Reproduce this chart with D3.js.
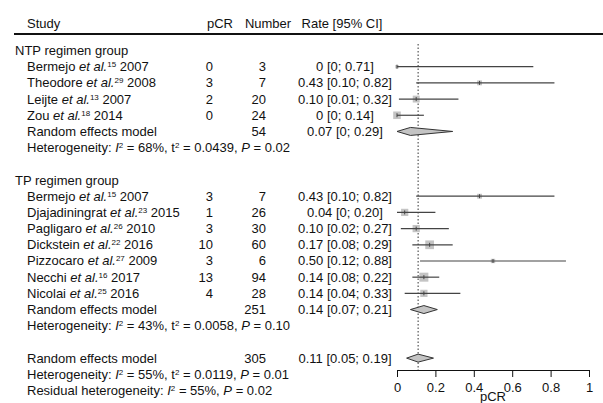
<!DOCTYPE html>
<html>
<head>
<meta charset="utf-8">
<script src="https://cdn.jsdelivr.net/npm/d3@7"></script>
<style>
  body { margin: 0; background: #fff; }
  svg { font-family: "Liberation Sans", Arial, sans-serif; font-size: 13px; }
  .axis text { font-family: "Liberation Sans", Arial, sans-serif; font-size: 13px; fill: #111; }
  .axis path, .axis line { stroke: #111; }
</style>
</head>
<body>
<div id="chart"></div>
<script>
// study rows (row index in the table)
var authors = ["Bermejo", "Theodore", "Leijte", "Zou",
  "Bermejo", "Djajadiningrat", "Pagligaro", "Dickstein", "Pizzocaro", "Necchi", "Nicolai"];
var refs = ["15", "29", "13", "18", "15", "23", "26", "22", "27", "16", "25"];
var years = ["2007", "2008", "2007", "2014", "2007", "2015", "2010", "2016", "2009", "2017", "2016"];
var events = [0, 3, 2, 0, 3, 1, 3, 10, 3, 13, 4];
var totals = [3, 7, 20, 24, 7, 26, 30, 60, 6, 94, 28];
var rates = [0, 0.43, 0.10, 0, 0.43, 0.04, 0.10, 0.17, 0.50, 0.14, 0.14];
var lower = [0, 0.10, 0.01, 0, 0.10, 0, 0.02, 0.08, 0.12, 0.08, 0.04];
var upper = [0.71, 0.82, 0.32, 0.14, 0.82, 0.20, 0.27, 0.29, 0.88, 0.22, 0.33];
var weights = [2.5, 5, 10, 12, 5, 11, 11, 16, 4, 17, 11];
var studyRows = [1, 2, 3, 4, 9, 10, 11, 12, 13, 14, 15];

// pooled estimates
var poolTotals = [54, 251, 305];
var poolRates = [0.07, 0.14, 0.11];
var poolLower = [0, 0.07, 0.05];
var poolUpper = [0.29, 0.21, 0.19];
var poolRows = [5, 16, 19];

var groupLabels = ["NTP regimen group", "TP regimen group"];
var groupRows = [0, 8];

// heterogeneity lines
var hetI2 = ["68%", "43%", "55%"];
var hetTau2 = ["0.0439", "0.0058", "0.0119"];
var hetP = ["0.02", "0.10", "0.01"];
var hetRows = [6, 17, 20];
var residI2 = "55%", residP = "0.02", residRow = 21;

var xTicks = [0, 0.2, 0.4, 0.6, 0.8, 1];
var overallRate = 0.11;

var width = 603, height = 403;

var svg = d3.select("#chart").append("svg")
  .attr("width", width)
  .attr("height", height);

var x = d3.scaleLinear().domain([0, 1]).range([397, 589]);
var row = d3.scaleLinear().domain([0, 21]).range([55, 395]);
var box = d3.scaleSqrt().domain([0, 17]).range([0, 9]);

var colStudy = 27, colGroup = 15, colPcr = 213, colNum = 266, colRate = 345;

function fmt(v) {
  return v === 0 ? "0" : v.toFixed(2);
}
function rateText(r, l, u) {
  return fmt(r) + " [" + fmt(l) + "; " + fmt(u) + "]";
}

// header
var head = svg.append("g").attr("fill", "#111");
head.append("text").attr("x", colStudy).attr("y", 28).text("Study");
head.append("text").attr("x", colPcr + 7).attr("y", 28).attr("text-anchor", "middle").text("pCR");
head.append("text").attr("x", 268).attr("y", 28).attr("text-anchor", "middle").text("Number");
head.append("text").attr("x", 342).attr("y", 28).attr("text-anchor", "middle").text("Rate [95% CI]");
svg.append("line")
  .attr("x1", 14).attr("x2", width)
  .attr("y1", 34).attr("y2", 34)
  .attr("stroke", "#111").attr("stroke-width", 2);

var table = svg.append("g").attr("fill", "#111");

groupLabels.forEach(function(g, i) {
  table.append("text").attr("x", colGroup).attr("y", row(groupRows[i])).text(g);
});

// study text
authors.forEach(function(a, i) {
  var y = row(studyRows[i]);
  var t = table.append("text").attr("x", colStudy).attr("y", y);
  t.append("tspan").text(a + " ");
  t.append("tspan").attr("font-style", "italic").text("et al.");
  t.append("tspan").attr("font-size", "8px").attr("dy", -4).text(refs[i]);
  t.append("tspan").attr("dy", 4).text(" " + years[i]);

  table.append("text").attr("x", colPcr).attr("y", y).attr("text-anchor", "end").text(events[i]);
  table.append("text").attr("x", colNum).attr("y", y).attr("text-anchor", "end").text(totals[i]);
  table.append("text").attr("x", colRate).attr("y", y).attr("text-anchor", "middle")
    .text(rateText(rates[i], lower[i], upper[i]));
});

poolRows.forEach(function(r, i) {
  var y = row(r);
  table.append("text").attr("x", colStudy).attr("y", y).text("Random effects model");
  table.append("text").attr("x", colNum).attr("y", y).attr("text-anchor", "end").text(poolTotals[i]);
  table.append("text").attr("x", colRate).attr("y", y).attr("text-anchor", "middle")
    .text(rateText(poolRates[i], poolLower[i], poolUpper[i]));
});

function hetLine(t, i2) {
  t.append("tspan").attr("font-style", "italic").text("I");
  t.append("tspan").attr("font-size", "8px").attr("dy", -4).text("2");
  t.append("tspan").attr("dy", 4).text(" = " + i2 + ", ");
}

hetRows.forEach(function(r, i) {
  var t = table.append("text").attr("x", colStudy).attr("y", row(r));
  t.append("tspan").text("Heterogeneity: ");
  hetLine(t, hetI2[i]);
  t.append("tspan").text((i === 1 ? " " : "") + "t");
  t.append("tspan").attr("font-size", "8px").attr("dy", -4).text("2");
  t.append("tspan").attr("dy", 4).text(" = " + hetTau2[i] + ", ");
  t.append("tspan").attr("font-style", "italic").text("P");
  t.append("tspan").text(" = " + hetP[i]);
});

var rt = table.append("text").attr("x", colStudy).attr("y", row(residRow));
rt.append("tspan").text("Residual heterogeneity: ");
hetLine(rt, residI2);
rt.append("tspan").attr("font-style", "italic").text("P");
rt.append("tspan").text(" = " + residP);

// forest plot
var plot = svg.append("g");
var axisY = 370;

plot.append("line")
  .attr("x1", x(overallRate)).attr("x2", x(overallRate))
  .attr("y1", 44).attr("y2", axisY)
  .attr("stroke", "#333").attr("stroke-width", 1)
  .attr("stroke-dasharray", "1.5,2");

authors.forEach(function(a, i) {
  var cy = row(studyRows[i]) - 4.5;
  var s = box(weights[i]);
  plot.append("rect")
    .attr("x", x(rates[i]) - s / 2).attr("y", cy - s / 2)
    .attr("width", s).attr("height", s)
    .attr("fill", "#c4c4c4");
  plot.append("line")
    .attr("x1", x(lower[i])).attr("x2", x(upper[i]))
    .attr("y1", cy).attr("y2", cy)
    .attr("stroke", "#444").attr("stroke-width", 1.2);
  plot.append("line")
    .attr("x1", x(rates[i])).attr("x2", x(rates[i]))
    .attr("y1", cy - 2).attr("y2", cy + 2)
    .attr("stroke", "#444").attr("stroke-width", 1);
});

poolRows.forEach(function(r, i) {
  var cy = row(r) - 4.5;
  var pts = [[x(poolLower[i]), cy], [x(poolRates[i]), cy - 4],
    [x(poolUpper[i]), cy], [x(poolRates[i]), cy + 4]];
  plot.append("path")
    .attr("d", "M" + pts.join("L") + "Z")
    .attr("fill", "#c4c4c4")
    .attr("stroke", "#333").attr("stroke-width", 1);
});

var axis = d3.axisBottom(x)
  .tickValues(xTicks)
  .tickSize(7)
  .tickSizeOuter(0)
  .tickFormat(function(d) { return d === 0 || d === 1 ? String(d) : d.toFixed(1); });

svg.append("g")
  .attr("class", "axis")
  .attr("transform", "translate(0," + axisY + ")")
  .call(axis)
  .call(function(g) { g.selectAll("text").attr("dy", "0.9em"); });

svg.append("text")
  .attr("x", x(0.5)).attr("y", 401)
  .attr("text-anchor", "middle")
  .attr("fill", "#111")
  .text("pCR");
</script>
</body>
</html>
